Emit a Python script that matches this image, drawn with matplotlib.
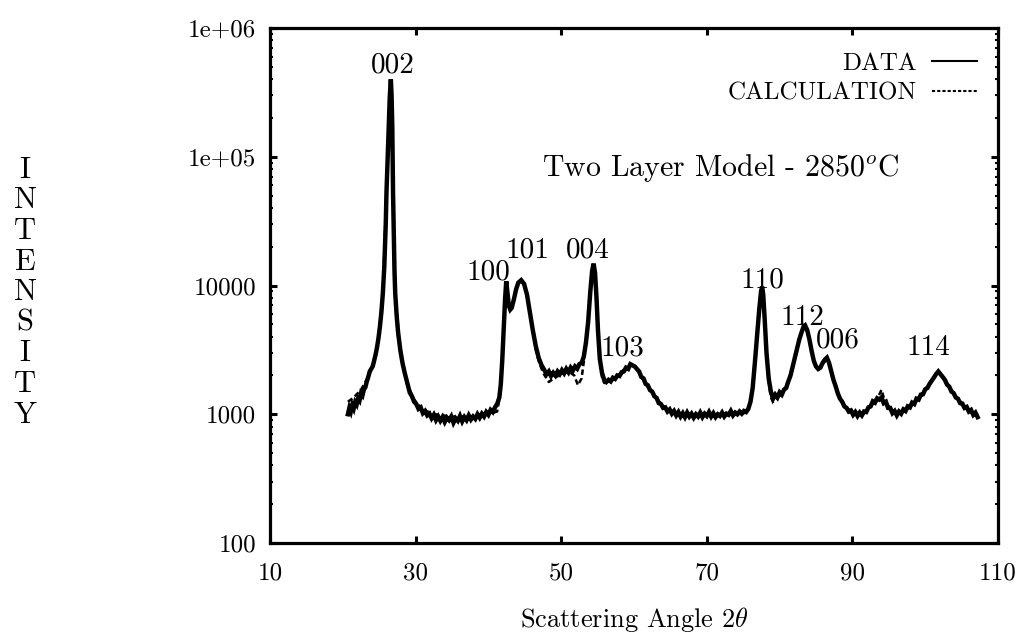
import matplotlib
matplotlib.use("Agg")
import matplotlib.pyplot as plt
from matplotlib.ticker import FixedLocator, LogLocator, NullFormatter
import numpy as np

plt.rcParams['font.family'] = ['cmr10', 'DejaVu Serif']
plt.rcParams['mathtext.fontset'] = 'cm'
plt.rcParams['axes.unicode_minus'] = False
plt.rcParams['axes.formatter.use_mathtext'] = True

# ---------------- data ----------------
data_angle = [
    20.7, 20.9, 21.1, 21.3, 21.5, 21.7, 21.9, 22.1, 22.3, 22.5, 22.7, 22.9, 23.1, 23.3, 23.5, 23.7, 23.9,
    24.1, 24.3, 24.5, 24.7, 24.9, 25.1, 25.3, 25.5, 25.7, 25.9, 26.0, 26.15, 26.3, 26.45, 26.6, 26.7,
    26.8, 26.9, 27.0, 27.1, 27.2, 27.4, 27.6, 27.9, 28.2, 28.5, 28.8, 29.2, 29.5, 29.8, 30.1, 30.4,
    30.7, 31.0, 31.3, 31.6, 31.9, 32.2, 32.5, 32.8, 33.1, 33.4, 33.7, 34.0, 34.3, 34.6, 34.9, 35.2,
    35.5, 35.8, 36.1, 36.4, 36.7, 37.0, 37.3, 37.6, 37.9, 38.2, 38.5, 38.8, 39.1, 39.4, 39.7, 40.0,
    40.3, 40.6, 40.9, 41.2, 41.5, 41.7, 41.9, 42.1, 42.3, 42.45, 42.6, 42.8, 43.0, 43.2, 43.5, 43.8,
    44.1, 44.5, 44.9, 45.3, 45.7, 46.1, 46.5, 46.9, 47.3, 47.7, 48.0, 48.3, 48.6, 48.9, 49.2, 49.5,
    49.8, 50.1, 50.4, 50.7, 51.0, 51.3, 51.6, 51.9, 52.2, 52.5, 52.8, 53.1, 53.4, 53.7, 54.0, 54.25,
    54.45, 54.65, 54.85, 55.05, 55.3, 55.6, 55.9, 56.2, 56.5, 56.8, 57.1, 57.4, 57.7, 58.0, 58.3,
    58.6, 58.9, 59.2, 59.5, 59.8, 60.1, 60.4, 60.7, 61.0, 61.3, 61.6, 61.9, 62.2, 62.5, 62.8, 63.1,
    63.4, 63.7, 64.0, 64.3, 64.6, 64.9, 65.2, 65.5, 65.8, 66.1, 66.4, 66.7, 67.0, 67.3, 67.6, 67.9,
    68.2, 68.5, 68.8, 69.1, 69.4, 69.7, 70.0, 70.3, 70.6, 70.9, 71.2, 71.5, 71.8, 72.1, 72.4, 72.7,
    73.0, 73.3, 73.6, 73.9, 74.2, 74.5, 74.8, 75.1, 75.4, 75.7, 76.0, 76.3, 76.6, 76.9, 77.2, 77.45,
    77.6, 77.75, 77.95, 78.2, 78.5, 78.8, 79.1, 79.4, 79.7, 80.0, 80.3, 80.6, 80.9, 81.2, 81.5, 81.8,
    82.1, 82.4, 82.7, 83.0, 83.3, 83.5, 83.8, 84.1, 84.4, 84.7, 85.0, 85.3, 85.6, 85.9, 86.2, 86.5,
    86.8, 87.1, 87.4, 87.7, 88.0, 88.3, 88.6, 88.9, 89.2, 89.5, 89.8, 90.1, 90.4, 90.7, 91.0, 91.3,
    91.6, 91.9, 92.2, 92.5, 92.8, 93.1, 93.4, 93.7, 94.0, 94.3, 94.6, 94.9, 95.2, 95.5, 95.8, 96.1,
    96.4, 96.7, 97.0, 97.3, 97.6, 97.9, 98.2, 98.5, 98.8, 99.1, 99.4, 99.7, 100.0, 100.3, 100.6,
    100.9, 101.2, 101.5, 101.8, 102.1, 102.4, 102.7, 103.0, 103.3, 103.6, 103.9, 104.2, 104.5,
    104.8, 105.1, 105.4, 105.7, 106.0, 106.3, 106.6, 106.9, 107.2]
data_intensity = [
    1000, 1120, 1050, 1180, 1110, 1240, 1190, 1330, 1280, 1450, 1400, 1560, 1620, 1800, 1950, 2150, 2250,
    2350, 2600, 2900, 3300, 3900, 4800, 6200, 8700, 14000, 30000, 53000, 95000, 170000, 290000, 400000, 300000,
    170000, 53000, 25000, 13000, 8700, 5800, 4300, 3150, 2500, 2100, 1800, 1470, 1380, 1250, 1200, 1100,
    1130, 1020, 1060, 980, 1010, 930, 990, 900, 960, 890, 950, 870, 940, 900, 960, 860,
    930, 890, 970, 880, 950, 900, 980, 910, 960, 920, 1000, 940, 1010, 960, 1040, 990,
    1080, 1040, 1130, 1200, 1350, 1700, 2600, 4500, 8000, 10800, 9000, 7000, 6500, 6700, 7800, 9300,
    10500, 11000, 10300, 8500, 6200, 4500, 3400, 2750, 2400, 2200, 2050, 2150, 1980, 2100, 2000, 2150,
    2050, 2200, 2080, 2250, 2120, 2300, 2180, 2350, 2260, 2450, 2500, 2800, 3600, 5200, 9000, 13000,
    14800, 12500, 8000, 4500, 2700, 2100, 1850, 1780, 1850, 1800, 1920, 1880, 2000, 1980, 2120,
    2150, 2300, 2250, 2450, 2400, 2350, 2250, 2150, 1950, 1900, 1720, 1680, 1540, 1500, 1380, 1340,
    1220, 1200, 1120, 1130, 1050, 1090, 1010, 1060, 980, 1040, 960, 1020, 950, 1030, 960, 1010,
    940, 1000, 960, 1030, 950, 1010, 970, 1040, 960, 1020, 950, 1000, 970, 1030, 960, 1010,
    990, 1060, 980, 1030, 1000, 1050, 1010, 1060, 1040, 1100, 1250, 1600, 2500, 4000, 6500, 9000,
    9800, 8500, 5500, 3000, 1900, 1500, 1320, 1420, 1350, 1480, 1420, 1550, 1600, 1800, 2000, 2350,
    2750, 3250, 3800, 4300, 4800, 4900, 4500, 3800, 3100, 2600, 2350, 2250, 2300, 2500, 2650, 2750,
    2500, 2150, 1850, 1650, 1450, 1320, 1250, 1150, 1120, 1050, 1070, 990, 1040, 970, 1030, 980,
    1050, 1040, 1130, 1150, 1260, 1230, 1330, 1300, 1350, 1220, 1250, 1120, 1120, 1020, 1060, 980,
    1050, 1010, 1090, 1060, 1150, 1130, 1230, 1200, 1320, 1300, 1420, 1430, 1560, 1600, 1720,
    1820, 1930, 2050, 2150, 2050, 1950, 1850, 1700, 1640, 1500, 1460, 1350, 1320,
    1220, 1210, 1120, 1140, 1050, 1080, 990, 1030, 950]

calc_angle = [
    20.7, 21.5, 22.5, 23.5, 24.3, 24.9, 25.5, 26.0, 26.3, 26.6, 26.8, 26.9, 27.2, 27.9, 28.8, 29.8,
    31.0, 33.0, 35.0, 37.0, 39.0, 40.5, 41.2, 41.6, 41.9, 42.1, 42.3, 42.45, 42.6, 42.8, 43.0, 43.2,
    43.5, 43.8, 44.1, 44.5, 44.9, 45.3, 45.7, 46.1, 46.5, 46.9, 47.5, 48.3, 49.0, 50.0,
    51.0, 51.8, 52.3, 52.8, 53.2, 53.7, 54.0, 54.25, 54.45, 54.65, 54.85, 55.05, 55.3, 55.6, 55.9,
    56.5, 57.5, 58.5, 59.5, 60.2, 61.0, 62.0, 63.0, 64.0, 65.0, 67.0, 70.0, 73.0, 75.0, 75.7, 76.0,
    76.3, 76.6, 76.9, 77.2, 77.45, 77.6, 77.75, 77.95, 78.2, 78.5, 78.8, 79.1, 79.5, 80.0, 80.6,
    81.2, 81.8, 82.4, 83.0, 83.5, 84.1, 84.7, 85.3, 85.9, 86.5, 87.1, 87.7, 88.3, 88.9, 89.8, 91.0,
    92.0, 92.8, 93.5, 94.0, 94.3, 94.9, 95.8, 96.5, 97.5, 98.5, 99.5, 100.5, 101.2, 101.8, 102.4,
    103.3, 104.2, 105.1, 106.0, 107.2]
calc_intensity = [
    1250, 1350, 1550, 1950, 2500, 3900, 8700, 55000, 170000, 380000, 170000, 53000, 8500, 3100, 1750, 1300,
    1080, 990, 960, 960, 980, 1020, 1050, 1400, 2600, 4500, 8000, 10500, 9000, 7000, 6500, 6700,
    7800, 9300, 10500, 11000, 10300, 8500, 6200, 4400, 3200, 2600, 2100, 1780, 1900, 2050,
    2150, 2000, 1680, 1900, 2800, 5200, 9000, 13000, 14500, 12500, 8000, 4500, 2600, 1950, 1750,
    1780, 1900, 2100, 2400, 2350, 1950, 1600, 1350, 1150, 1050, 1000, 1000, 1000, 1010, 1080, 1250,
    1600, 2500, 4000, 6500, 9000, 9700, 8500, 5500, 3000, 1800, 1350, 1250, 1300, 1400, 1550,
    1800, 2350, 3250, 4300, 4800, 3800, 2600, 2200, 2450, 2700, 2150, 1650, 1320, 1150, 1030, 1000,
    1080, 1250, 1350, 1550, 1350, 1150, 1030, 1030, 1120, 1230, 1430, 1700, 1950, 2150, 1950,
    1650, 1380, 1200, 1060, 960]

x_ticks = [10, 30, 50, 70, 90, 110]
y_ticks = [100, 1000, 10000, 100000, 1000000]
y_tick_labels = ["100", "1000", "10000", "1e+05", "1e+06"]

peak_labels = ["002", "100", "101", "004", "103", "110", "112", "006", "114"]
peak_label_x = [26.9, 39.95, 45.3, 53.7, 58.35, 77.6, 83.1, 88.0, 100.4]
peak_label_y = [5.15e5, 1.27e4, 1.89e4, 1.89e4, 3.27e3, 1.1e4, 5.6e3, 3.78e3, 3.27e3]

series_labels = ["DATA", "CALCULATION"]
x_label = r"Scattering Angle $2\theta$"
y_label = "INTENSITY"
annotation = r"Two Layer Model - 2850$^{o}$C"

# ---------------- figure ----------------
W, H = 1021, 643
fig = plt.figure(figsize=(W / 100, H / 100), dpi=100)
ax_l, ax_r, ax_t, ax_b = 270, 998, 28, 543
ax = fig.add_axes([ax_l / W, 1 - ax_b / H, (ax_r - ax_l) / W, (ax_b - ax_t) / H])

ax.set_yscale('log')
ax.set_xlim(10, 110)
ax.set_ylim(100, 1e6)

calc_line, = ax.plot(calc_angle, calc_intensity, color='black', lw=1.8,
                     linestyle=(0, (2.2, 1.3)), zorder=2)
data_line, = ax.plot(data_angle, data_intensity, color='black', lw=3.2,
                     solid_joinstyle='miter', zorder=3)

for sp in ax.spines.values():
    sp.set_linewidth(2.3)

ax.xaxis.set_major_locator(FixedLocator(x_ticks))
ax.set_xticklabels([str(v) for v in x_ticks])
ax.yaxis.set_major_locator(FixedLocator(y_ticks))
ax.set_yticklabels(y_tick_labels)
ax.yaxis.set_minor_locator(LogLocator(base=10, subs=np.arange(2, 10)))
ax.yaxis.set_minor_formatter(NullFormatter())

ax.tick_params(axis='both', which='major', direction='in', length=5, width=2.2,
               top=True, right=True, labelsize=18)
ax.tick_params(axis='y', which='minor', direction='in', length=2.5, width=1.5,
               left=True, right=True)
ax.tick_params(axis='y', which='major', pad=10)
ax.tick_params(axis='x', which='major', pad=14)

for lab, xx, yy in zip(peak_labels, peak_label_x, peak_label_y):
    ax.text(xx, yy, lab, ha='center', va='center', fontsize=21)

ax.text((721 - ax_l) / (ax_r - ax_l), (ax_b - 168) / (ax_b - ax_t), annotation,
        transform=ax.transAxes, ha='center', va='center', fontsize=21.5)

leg = ax.legend([data_line, calc_line], series_labels, loc='upper right',
                bbox_to_anchor=((977 - ax_l) / (ax_r - ax_l), (ax_b - 52) / (ax_b - ax_t)),
                markerfirst=False, frameon=False, fontsize=18, handlelength=1.8,
                handletextpad=0.6, labelspacing=0.3, borderpad=0, borderaxespad=0)
leg.get_lines()[0].set_linewidth(1.5)
leg.get_lines()[1].set_linewidth(1.5)
leg.get_lines()[1].set_linestyle((0, (1.5, 1.0)))

fig.text(634 / W, 1 - 620 / H, x_label, ha='center', va='center', fontsize=19)

letter_y0, letter_step = 170, 30.6
for i, ch in enumerate(y_label):
    fig.text(25 / W, 1 - (letter_y0 + i * letter_step) / H, ch, ha='center', va='center', fontsize=22)

fig.savefig("out.png", dpi=100)
